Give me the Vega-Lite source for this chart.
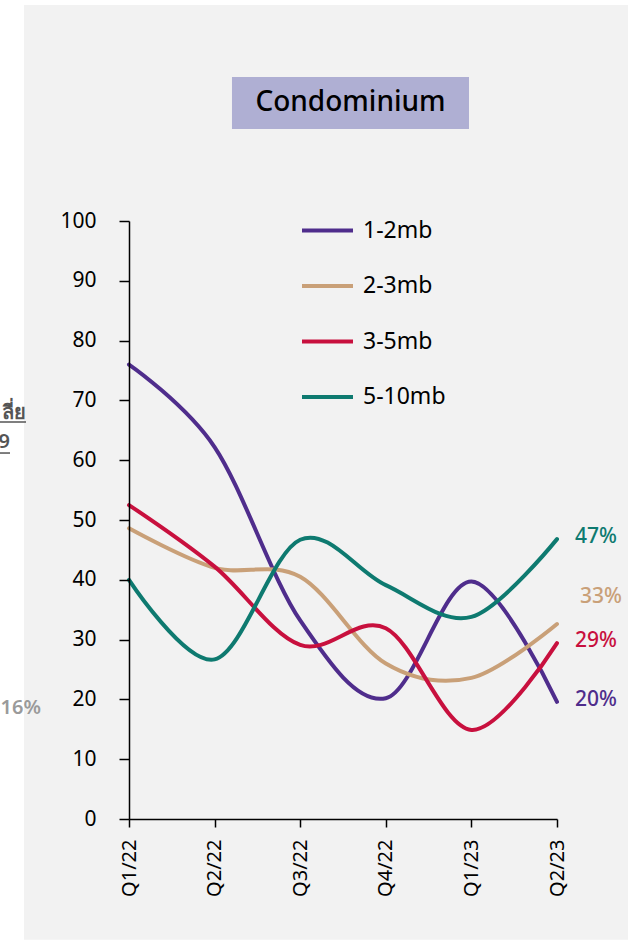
{
  "$schema": "https://vega.github.io/schema/vega-lite/v6.json",
  "width": 428,
  "height": 598,
  "autosize": {"type": "none"},
  "padding": {"left": 129, "top": 221, "right": 71, "bottom": 124},
  "background": "white",
  "config": {
    "view": {"stroke": null},
    "font": "Noto Sans",
    "axis": {"labelFont": "Noto Sans", "grid": false, "domainColor": "black", "tickColor": "black", "labelColor": "black", "domainWidth": 1.5, "tickWidth": 1.5, "title": null}
  },
  "datasets": {
    "main": [
      {"quarter": "Q1/22", "qi": 0, "series": "1-2mb", "value": 76},
      {"quarter": "Q2/22", "qi": 1, "series": "1-2mb", "value": 62.2},
      {"quarter": "Q3/22", "qi": 2, "series": "1-2mb", "value": 33.2},
      {"quarter": "Q4/22", "qi": 3, "series": "1-2mb", "value": 20.2},
      {"quarter": "Q1/23", "qi": 4, "series": "1-2mb", "value": 39.7},
      {"quarter": "Q2/23", "qi": 5, "series": "1-2mb", "value": 19.6, "label": "20%"},
      {"quarter": "Q1/22", "qi": 0, "series": "2-3mb", "value": 48.6},
      {"quarter": "Q2/22", "qi": 1, "series": "2-3mb", "value": 42},
      {"quarter": "Q3/22", "qi": 2, "series": "2-3mb", "value": 40.5},
      {"quarter": "Q4/22", "qi": 3, "series": "2-3mb", "value": 26},
      {"quarter": "Q1/23", "qi": 4, "series": "2-3mb", "value": 23.6},
      {"quarter": "Q2/23", "qi": 5, "series": "2-3mb", "value": 32.6, "label": "33%"},
      {"quarter": "Q1/22", "qi": 0, "series": "3-5mb", "value": 52.5},
      {"quarter": "Q2/22", "qi": 1, "series": "3-5mb", "value": 42.2},
      {"quarter": "Q3/22", "qi": 2, "series": "3-5mb", "value": 29.1},
      {"quarter": "Q4/22", "qi": 3, "series": "3-5mb", "value": 31.9},
      {"quarter": "Q1/23", "qi": 4, "series": "3-5mb", "value": 14.9},
      {"quarter": "Q2/23", "qi": 5, "series": "3-5mb", "value": 29.4, "label": "29%"},
      {"quarter": "Q1/22", "qi": 0, "series": "5-10mb", "value": 40},
      {"quarter": "Q2/22", "qi": 1, "series": "5-10mb", "value": 26.7},
      {"quarter": "Q3/22", "qi": 2, "series": "5-10mb", "value": 46.7},
      {"quarter": "Q4/22", "qi": 3, "series": "5-10mb", "value": 39.1},
      {"quarter": "Q1/23", "qi": 4, "series": "5-10mb", "value": 33.8},
      {"quarter": "Q2/23", "qi": 5, "series": "5-10mb", "value": 46.8, "label": "47%"}
    ],
    "one": [{"id": 1}]
  },
  "layer": [
    {
      "data": {"name": "one"},
      "mark": {"type": "rect", "color": "#F2F2F2"},
      "encoding": {
        "x": {"datum": -1.2266, "type": "quantitative", "scale": {"domain": [0, 5], "nice": false},
          "axis": {"values": [0, 1, 2, 3, 4, 5], "labelExpr": "['Q1/22','Q2/22','Q3/22','Q4/22','Q1/23','Q2/23'][datum.value]", "labelAngle": -90, "labelFontSize": 20, "tickSize": 8, "labelPadding": 12, "zindex": 1}},
        "x2": {"datum": 6.5},
        "y": {"datum": 136.1, "type": "quantitative", "scale": {"domain": [0, 100], "nice": false},
          "axis": {"values": [0, 10, 20, 30, 40, 50, 60, 70, 80, 90, 100], "labelFontSize": 21, "tickSize": 10, "labelPadding": 23, "zindex": 1}},
        "y2": {"datum": -20.2}
      }
    },
    {
      "data": {"name": "one"},
      "mark": {"type": "rect", "color": "#AFAFD3"},
      "encoding": {
        "x": {"datum": 1.203, "type": "quantitative"},
        "x2": {"datum": 3.972},
        "y": {"datum": 124.08, "type": "quantitative"},
        "y2": {"datum": 115.38}
      }
    },
    {
      "data": {"name": "one"},
      "mark": {"type": "text", "text": "Condominium", "fontSize": 28, "fontWeight": 500, "font": "Noto Sans", "color": "black", "align": "center", "baseline": "middle"},
      "encoding": {
        "x": {"datum": 2.5876, "type": "quantitative"},
        "y": {"datum": 119.73, "type": "quantitative"}
      }
    },
    {
      "data": {"name": "main"},
      "mark": {"type": "line", "interpolate": "cardinal", "tension": 0, "strokeWidth": 4, "strokeCap": "round"},
      "encoding": {
        "x": {"field": "qi", "type": "quantitative"},
        "y": {"field": "value", "type": "quantitative"},
        "color": {
          "field": "series", "type": "nominal",
          "scale": {"domain": ["1-2mb", "2-3mb", "3-5mb", "5-10mb"], "range": ["#4F2D8C", "#C9A078", "#C8103E", "#0E7A70"]},
          "legend": {
            "title": null, "orient": "none", "legendX": 171, "legendY": -18,
            "symbolType": "stroke", "symbolSize": 2600, "symbolStrokeWidth": 4,
            "labelFontSize": 23, "labelFont": "Noto Sans", "labelColor": "black",
            "labelOffset": 8, "rowPadding": 15.5, "padding": 0
          }
        }
      }
    },
    {
      "data": {"name": "main"},
      "transform": [{"filter": "datum.label != null && datum.series != '2-3mb'"}],
      "mark": {"type": "text", "align": "left", "baseline": "middle", "dx": 18, "dy": -2, "fontSize": 21, "fontWeight": 500, "font": "Noto Sans"},
      "encoding": {
        "x": {"field": "qi", "type": "quantitative"},
        "y": {"field": "value", "type": "quantitative"},
        "text": {"field": "label"},
        "color": {"field": "series", "type": "nominal", "legend": null}
      }
    },
    {
      "data": {"name": "main"},
      "transform": [{"filter": "datum.label != null && datum.series == '2-3mb'"}],
      "mark": {"type": "text", "align": "left", "baseline": "middle", "dx": 23, "dy": -27, "fontSize": 21, "fontWeight": 500, "font": "Noto Sans"},
      "encoding": {
        "x": {"field": "qi", "type": "quantitative"},
        "y": {"field": "value", "type": "quantitative"},
        "text": {"field": "label"},
        "color": {"field": "series", "type": "nominal", "legend": null}
      }
    },
    {
      "data": {"name": "one"},
      "mark": {"type": "text", "text": "16%", "fontSize": 20, "fontWeight": 600, "color": "#9A9A9A", "align": "right", "baseline": "middle"},
      "encoding": {
        "x": {"datum": -1.028, "type": "quantitative"},
        "y": {"datum": 18.56, "type": "quantitative"}
      }
    },
    {
      "data": {"name": "one"},
      "mark": {"type": "text", "text": "ลี่ย", "fontSize": 20, "fontWeight": 600, "color": "#555555", "align": "right", "baseline": "middle"},
      "encoding": {
        "x": {"datum": -1.203, "type": "quantitative"},
        "y": {"datum": 67.9, "type": "quantitative"}
      }
    },
    {
      "data": {"name": "one"},
      "mark": {"type": "text", "text": "9", "fontSize": 20, "fontWeight": 600, "color": "#555555", "align": "right", "baseline": "middle"},
      "encoding": {
        "x": {"datum": -1.39, "type": "quantitative"},
        "y": {"datum": 63.0, "type": "quantitative"}
      }
    },
    {
      "data": {"name": "one"},
      "mark": {"type": "rule", "color": "#555555", "strokeWidth": 1.5},
      "encoding": {
        "x": {"datum": -1.6, "type": "quantitative"},
        "x2": {"datum": -1.203},
        "y": {"datum": 66.4, "type": "quantitative"}
      }
    },
    {
      "data": {"name": "one"},
      "mark": {"type": "rule", "color": "#555555", "strokeWidth": 1.5},
      "encoding": {
        "x": {"datum": -1.6, "type": "quantitative"},
        "x2": {"datum": -1.39},
        "y": {"datum": 61.2, "type": "quantitative"}
      }
    }
  ]
}
